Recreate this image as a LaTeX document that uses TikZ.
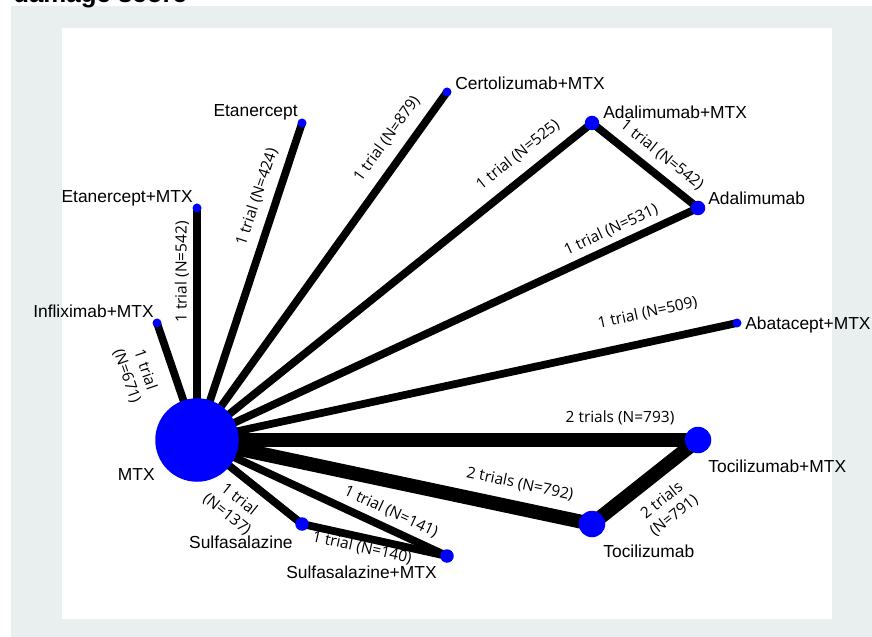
\documentclass[tikz,border=0pt]{standalone}
\usepackage{fontspec}
\setmainfont{Liberation Sans}
\newfontfamily\trialfont{Open Sans}
\pgfdeclarelayer{panel}
\pgfdeclarelayer{links}
\pgfsetlayers{panel,links,main}
\definecolor{panelgray}{RGB}{232,239,238}
\tikzset{
  trt/.style={circle, fill=blue, inner sep=0pt},
  trtname/.style={font=\fontsize{9.9}{11.9}\selectfont, inner sep=0pt},
  trials/.style={font=\trialfont\fontsize{8.8}{11}\selectfont, inner sep=0pt, align=center},
  one/.style={line width=0.155cm},
  two/.style={line width=0.28cm}
}
\begin{document}
\begin{tikzpicture}
        \useasboundingbox (0,0) rectangle (17.44,-12.74);
        % grey frame and white plot area
        \begin{pgfonlayer}{panel}
        \fill[panelgray] (0.22,-0.12) rectangle (17.44,-12.74);
        \fill[white] (1.24,-0.56) rectangle (16.64,-12.38);
        \end{pgfonlayer}
        \node[anchor=base west, inner sep=0pt, font=\bfseries\fontsize{14.7}{17}\selectfont] (title) at (0.26,-0.06) {damage score};
        % treatments
        \node[trt, minimum size=1.67cm] (mtx) at (3.94,-8.80) {};
        \node[trt, minimum size=0.18cm] (inf) at (3.14,-6.46) {};
        \node[trt, minimum size=0.18cm] (etam) at (3.94,-4.16) {};
        \node[trt, minimum size=0.18cm] (eta) at (6.04,-2.46) {};
        \node[trt, minimum size=0.18cm] (cer) at (8.94,-1.84) {};
        \node[trt, minimum size=0.29cm] (adam) at (11.84,-2.46) {};
        \node[trt, minimum size=0.29cm] (ada) at (13.96,-4.16) {};
        \node[trt, minimum size=0.18cm] (aba) at (14.74,-6.46) {};
        \node[trt, minimum size=0.53cm] (tocm) at (13.96,-8.80) {};
        \node[trt, minimum size=0.53cm] (toc) at (11.84,-10.48) {};
        \node[trt, minimum size=0.27cm] (sul) at (6.04,-10.48) {};
        \node[trt, minimum size=0.27cm] (sulm) at (8.94,-11.12) {};
        % treatment names
        \node[trtname, anchor=base east] (mtx-name) at (3.10,-9.60) {MTX};
        \node[trtname, anchor=base east] (inf-name) at (3.08,-6.36) {Infliximab+MTX};
        \node[trtname, anchor=base east] (etam-name) at (3.86,-4.06) {Etanercept+MTX};
        \node[trtname, anchor=base east] (eta-name) at (5.96,-2.34) {Etanercept};
        \node[trtname, anchor=base west] (cer-name) at (9.10,-1.80) {Certolizumab+MTX};
        \node[trtname, anchor=base west] (adam-name) at (12.06,-2.38) {Adalimumab+MTX};
        \node[trtname, anchor=base west] (ada-name) at (14.16,-4.10) {Adalimumab};
        \node[trtname, anchor=base west] (aba-name) at (14.90,-6.59) {Abatacept+MTX};
        \node[trtname, anchor=base west] (tocm-name) at (14.16,-9.44) {Tocilizumab+MTX};
        \node[trtname, anchor=base west] (toc-name) at (12.06,-11.14) {Tocilizumab};
        \node[trtname, anchor=base east] (sul-name) at (5.86,-10.96) {Sulfasalazine};
        \node[trtname, anchor=base east] (sulm-name) at (8.74,-11.56) {Sulfasalazine+MTX};
        % comparisons, under the dots
        \begin{pgfonlayer}{links}
        \draw[one] (mtx.center) -- (inf.center);
        \draw[one] (mtx.center) -- (etam.center);
        \draw[one] (mtx.center) -- (eta.center);
        \draw[one] (mtx.center) -- (cer.center);
        \draw[one] (mtx.center) -- (adam.center);
        \draw[one] (adam.center) -- (ada.center);
        \draw[one] (mtx.center) -- (ada.center);
        \draw[one] (mtx.center) -- (aba.center);
        \draw[two] (mtx.center) -- (tocm.center);
        \draw[two] (mtx.center) -- (toc.center);
        \draw[two] (toc.center) -- (tocm.center);
        \draw[one] (mtx.center) -- (sul.center);
        \draw[one] (mtx.center) -- (sulm.center);
        \draw[one] (sul.center) -- (sulm.center);
        \end{pgfonlayer}
        % number of trials
        \node[trials, rotate=-71.1] (inf-trials) at (2.72,-7.46) {1 trial\\(N=671)};
        \node[trials, rotate=90] (etam-trials) at (3.64,-5.44) {1 trial (N=542)};
        \node[trials, rotate=71.6] (eta-trials) at (5.14,-3.94) {1 trial (N=424)};
        \node[trials, rotate=54.3] (cer-trials) at (7.74,-2.78) {1 trial (N=879)};
        \node[trials, rotate=38.7] (adam-trials) at (10.36,-3.10) {1 trial (N=525)};
        \node[trials, rotate=-38.7] (adapair-trials) at (13.24,-3.10) {1 trial (N=542)};
        \node[trials, rotate=24.8] (ada-trials) at (12.22,-4.60) {1 trial (N=531)};
        \node[trials, rotate=12.2] (aba-trials) at (12.95,-6.26) {1 trial (N=509)};
        \node[trials] (tocm-trials) at (12.40,-8.36) {2 trials (N=793)};
        \node[trials, rotate=-12] (toc-trials) at (10.40,-9.68) {2 trials (N=792)};
        \node[trials, rotate=38.4] (tocpair-trials) at (13.36,-10.16) {2 trials\\(N=791)};
        \node[trials, rotate=-38.7] (sul-trials) at (4.66,-10.14) {1 trial\\(N=137)};
        \node[trials, rotate=-24.9] (sulm-trials) at (7.82,-10.24) {1 trial (N=141)};
        \node[trials, rotate=-12.4] (sulpair-trials) at (7.24,-10.96) {1 trial (N=140)};
\end{tikzpicture}
\end{document}
